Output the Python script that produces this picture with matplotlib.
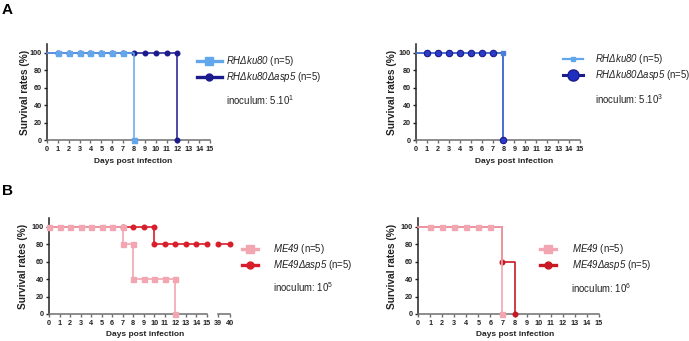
import matplotlib
matplotlib.use("Agg")
import matplotlib.pyplot as plt

plt.rcParams['font.family'] = ['Liberation Sans', 'DejaVu Sans']
plt.rcParams['mathtext.fontset'] = 'custom'
plt.rcParams['mathtext.rm'] = 'Liberation Sans:italic'
plt.rcParams['mathtext.it'] = 'Liberation Sans:italic'
plt.rcParams['mathtext.sf'] = 'Liberation Sans'
plt.rcParams['mathtext.bf'] = 'Liberation Sans:bold'

# ---------------- data ----------------
# Panel A left (inoculum 5.10^1)
a1_ku80_days = [0, 1, 2, 3, 4, 5, 6, 7, 8, 8]
a1_ku80_surv = [100, 100, 100, 100, 100, 100, 100, 100, 100, 0]
a1_asp5_days = [0, 1, 2, 3, 4, 5, 6, 7, 8, 9, 10, 11, 12, 12]
a1_asp5_surv = [100, 100, 100, 100, 100, 100, 100, 100, 100, 100, 100, 100, 100, 0]

# Panel A right (inoculum 5.10^3)
a2_ku80_days = [0, 1, 2, 3, 4, 5, 6, 7, 8, 8]
a2_ku80_surv = [100, 100, 100, 100, 100, 100, 100, 100, 100, 0]
a2_asp5_days = [0, 1, 2, 3, 4, 5, 6, 7, 8, 8]
a2_asp5_surv = [100, 100, 100, 100, 100, 100, 100, 100, 100, 0]

# Panel B left (inoculum 10^5)
b1_me49_days = [0, 1, 2, 3, 4, 5, 6, 7, 7, 8, 8, 9, 10, 11, 12, 12]
b1_me49_surv = [100, 100, 100, 100, 100, 100, 100, 100, 80, 80, 40, 40, 40, 40, 40, 0]
b1_asp5_days = [0, 7, 8, 9, 10, 10, 11, 12, 13, 14, 15]
b1_asp5_surv = [100, 100, 100, 100, 100, 80, 80, 80, 80, 80, 80]
b1_asp5_late_days = [39, 40]
b1_asp5_late_surv = [80, 80]

# Panel B right (inoculum 10^6)
b2_me49_days = [0, 1, 2, 3, 4, 5, 6, 7, 7]
b2_me49_surv = [100, 100, 100, 100, 100, 100, 100, 100, 0]
b2_asp5_days = [0, 7, 7, 8, 8]
b2_asp5_surv = [100, 100, 60, 60, 0]

x_ticks = list(range(0, 16))
late_ticks = [39, 40]
y_ticks = [0, 20, 40, 60, 80, 100]

lab_ku80 = r'$RH\Delta ku80$ (n=5)'
lab_ku80_asp5 = r'$RH\Delta ku80\Delta asp5$ (n=5)'
lab_me49 = r'$ME49$ (n=5)'
lab_me49_asp5 = r'$ME49\Delta asp5$ (n=5)'
inoc = [r'inoculum: 5.10$^{\mathsf{1}}$', r'inoculum: 5.10$^{\mathsf{3}}$',
        r'inoculum: 10$^{\mathsf{5}}$', r'inoculum: 10$^{\mathsf{6}}$']

LIGHTBLUE = '#62A6EC'
NAVY = '#1B1B8E'
MIDBLUE = '#4C7FD9'
PINK = '#F2A6B2'
RED = '#D81E2A'
AXGRAY = '#6e6e6e'
FS = 6.9

W, H = 689, 341
fig = plt.figure(figsize=(W / 100, H / 100), dpi=100)


def px_axes(x0, x1, y_bottom):
    # y_bottom: pixel row of y=0 ; 110 units -> 96 px
    return fig.add_axes([x0 / W, 1 - y_bottom / H, (x1 - x0) / W, 96 / H])


def style(ax, xticks, xlim, left=True):
    ax.set_xlim(*xlim)
    ax.set_ylim(0, 110)
    ax.set_xticks(xticks)
    ax.spines['top'].set_visible(False)
    ax.spines['right'].set_visible(False)
    ax.spines['bottom'].set_color(AXGRAY)
    ax.spines['bottom'].set_linewidth(1.1)
    ax.tick_params(axis='x', length=2.5, width=1, color=AXGRAY, pad=1.5,
                   labelsize=5.2, labelcolor='#222222')
    for t in ax.get_xticklabels():
        t.set_fontweight('bold')
    if left:
        ax.set_yticks(y_ticks)
        ax.spines['left'].set_color('#222222')
        ax.spines['left'].set_linewidth(1.1)
        ax.tick_params(axis='y', length=2.5, width=1, color='#222222', pad=1.2,
                       labelsize=5.2, labelcolor='#222222')
        for t in ax.get_yticklabels():
            t.set_fontweight('bold')
    else:
        ax.spines['left'].set_visible(False)
        ax.set_yticks([])


def labels(ax, xl_frac, yl_px, axw):
    ax.set_xlabel('Days post infection', fontsize=6, fontweight='bold', color='#222222')
    ax.set_ylabel('Survival rates (%)', fontsize=7.3, fontweight='bold', color='#222222')
    ax.xaxis.label.set_va('center')
    ax.yaxis.label.set_va('center')
    ax.xaxis.set_label_coords(xl_frac, -21 / 96)
    ax.yaxis.set_label_coords(-yl_px / axw, 0.5)


def add_legend(handles, labs, x_px, y_px, hl, htp, sizes=None, lws=None):
    leg = fig.legend(handles, labs, loc='upper left',
                     bbox_to_anchor=(x_px / W, 1 - y_px / H),
                     bbox_transform=fig.transFigure, frameon=False,
                     fontsize=FS, borderpad=0, borderaxespad=0,
                     handlelength=hl, handletextpad=htp, labelspacing=0.22)
    if sizes is not None:
        for h, s, lw in zip(leg.legend_handles, sizes, lws):
            h.set_markersize(s)
            h.set_linewidth(lw)
    for t in leg.get_texts():
        t.set_color('#222222')
    return leg


# ---------------- Panel A left ----------------
ax = px_axes(47, 210, 140)
l2, = ax.plot(a1_asp5_days, a1_asp5_surv, color=NAVY, lw=1.1, marker='o', ms=3.3,
              markevery=slice(1, None), clip_on=False, zorder=3)
l1, = ax.plot(a1_ku80_days, a1_ku80_surv, color=LIGHTBLUE, lw=1.1, marker='s', ms=3.6,
              markevery=slice(1, 8), clip_on=False, zorder=4)
ax.plot(a1_ku80_days[-1:], a1_ku80_surv[-1:], color=LIGHTBLUE, marker='s', ms=3.6,
        clip_on=False, zorder=4)
style(ax, x_ticks, (0, 15))
labels(ax, 0.53, 22, 163)
add_legend([l1, l2], [lab_ku80, lab_ku80_asp5], 197, 54, 2.6, 0.4, [5.5, 5], [2.4, 2.4])
fig.text(226 / W, 1 - 100 / H, inoc[0], fontsize=FS, va='center', ha='left', color='#222222')
fig.text(2 / W, 1 - 10 / H, 'A', fontsize=11, fontweight='bold', va='center', ha='left')

# ---------------- Panel A right ----------------
ax = px_axes(416, 580, 140)
ax.plot(a2_asp5_days, a2_asp5_surv, color=NAVY, lw=1.1, zorder=2, clip_on=False)
m1, = ax.plot(a2_ku80_days, a2_ku80_surv, color=MIDBLUE, lw=1.1, marker='s', ms=2.2,
              markevery=slice(1, None), clip_on=False, zorder=3)
m2, = ax.plot(a2_asp5_days, a2_asp5_surv, color=NAVY, lw=0, marker='o', ms=4.6,
              mfc='#2B3BC8', mec=NAVY, mew=0.8,
              markevery=[1, 2, 3, 4, 5, 6, 7, 9], clip_on=False, zorder=4)
style(ax, x_ticks, (0, 15))
labels(ax, 0.60, 24, 164)
h1 = plt.Line2D([], [], color=LIGHTBLUE, lw=1.6, marker='s', ms=2.5)
h2 = plt.Line2D([], [], color=NAVY, lw=2.2, marker='o', ms=8, mfc='#1F2FC0', mec=NAVY)
add_legend([h1, h2], [lab_ku80, lab_ku80_asp5], 563, 52, 2.1, 1.25)
fig.text(595 / W, 1 - 99 / H, inoc[1], fontsize=FS, va='center', ha='left', color='#222222')

# ---------------- Panel B left ----------------
ax = px_axes(49, 207, 314)
r1, = ax.plot(b1_asp5_days, b1_asp5_surv, color=RED, lw=1.2, marker='o', ms=3.3,
              markevery=slice(1, None), clip_on=False, zorder=3)
p1, = ax.plot(b1_me49_days, b1_me49_surv, color=PINK, lw=1.2, marker='s', ms=3.6,
              clip_on=False, zorder=4)
style(ax, x_ticks, (0, 15))
labels(ax, 0.61, 26, 158)
ax2 = px_axes(218, 230, 314)
ax2.plot(b1_asp5_late_days, b1_asp5_late_surv, color=RED, lw=1.2, marker='o', ms=3.3,
         clip_on=False, zorder=3)
style(ax2, late_ticks, (39, 40), left=False)
add_legend([p1, r1], [lab_me49, lab_me49_asp5], 242, 242, 1.7, 1.55, [5.5, 5], [2.4, 2.4])
fig.text(273 / W, 1 - 287 / H, inoc[2], fontsize=FS, va='center', ha='left', color='#222222')
fig.text(2 / W, 1 - 191 / H, 'B', fontsize=11, fontweight='bold', va='center', ha='left')

# ---------------- Panel B right ----------------
ax = px_axes(418, 599, 314)
s2, = ax.plot(b2_asp5_days, b2_asp5_surv, color='#C81A24', lw=1.2, marker='o', ms=3.3,
              markevery=[2, 4], clip_on=False, zorder=3)
s1, = ax.plot(b2_me49_days, b2_me49_surv, color=PINK, lw=1.2, marker='s', ms=3.6,
              markevery=[1, 2, 3, 4, 5, 6, 8], clip_on=False, zorder=4)
style(ax, x_ticks, (0, 15))
labels(ax, 0.536, 26, 181)
add_legend([s1, s2], [lab_me49, lab_me49_asp5], 540, 242, 1.7, 1.6, [5.5, 5], [2.4, 2.4])
fig.text(571 / W, 1 - 288 / H, inoc[3], fontsize=FS, va='center', ha='left', color='#222222')

fig.savefig('out.png', dpi=100)
